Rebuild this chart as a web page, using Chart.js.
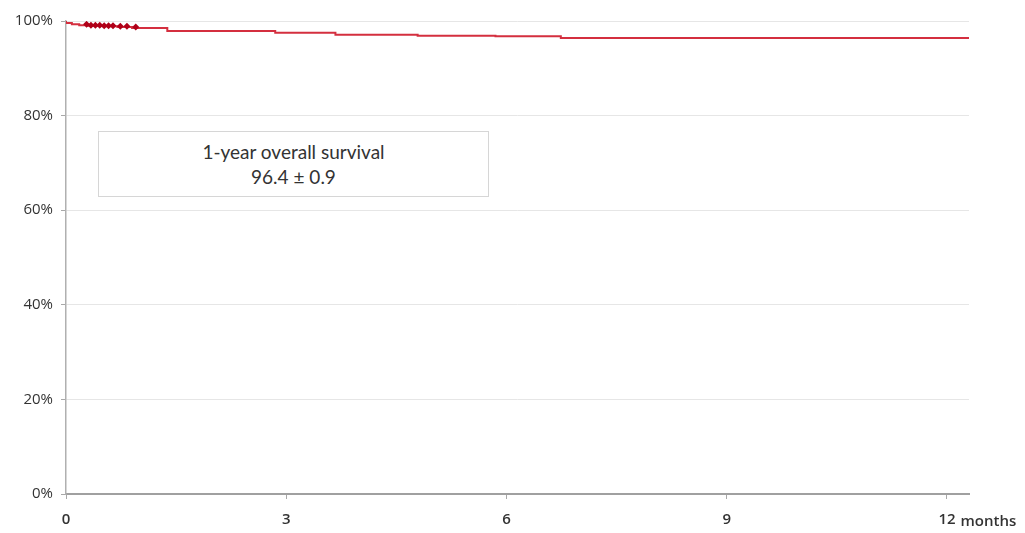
<!DOCTYPE html>
<html>
<head>
<meta charset="utf-8">
<script src="https://cdn.jsdelivr.net/npm/chart.js@4.4.1/dist/chart.umd.min.js"></script>
<style>
  html, body { margin: 0; padding: 0; background: #ffffff; }
  #wrap { position: relative; width: 1025px; height: 533px; }
  #note {
    position: absolute; left: 98px; top: 131px; width: 389px; height: 57px;
    border: 1px solid #d6d6d6; background: #ffffff;
    font-family: Lato, "Open Sans", sans-serif; font-size: 19px; color: #333333;
    text-align: center; line-height: 25px; padding-top: 7px; box-sizing: content-box;
  }
  #note div { height: 25px; }
</style>
</head>
<body>
<div id="wrap">
  <canvas id="km" width="1025" height="533"></canvas>
  <div id="note"><div>1-year overall survival</div><div>96.4 ± 0.9</div></div>
</div>
<script>
// Kaplan–Meier overall survival: event times (months) and survival (%) after each step
const stepMonths   = [0, 0.08, 0.18, 0.3, 0.5, 0.7, 0.9, 1.38, 2.85, 3.67, 4.79, 5.85, 6.74, 8.8, 12.3];
const stepSurvival = [100, 99.6, 99.3, 99.1, 99.0, 98.9, 98.75, 98.5, 97.9, 97.5, 97.1, 96.9, 96.75, 96.4, 96.4];

// censored observations
const censorMonths   = [0.28, 0.34, 0.4, 0.46, 0.52, 0.58, 0.64, 0.74, 0.83, 0.95];
const censorSurvival = [99.3, 99.1, 99.1, 99.1, 99.0, 99.0, 99.0, 98.9, 98.9, 98.75];

// axis ticks
const xTicks = [0, 3, 6, 9, 12];
const xUnit = 'months';
const yTicks = [0, 20, 40, 60, 80, 100];

const curve = stepMonths.map((m, i) => ({ x: m, y: stepSurvival[i] }));
const censored = censorMonths.map((m, i) => ({ x: m, y: censorSurvival[i] }));

const axisFont = { family: '"Open Sans", Lato, sans-serif', size: 15 };
const xFont = { family: '"Open Sans", Lato, sans-serif', size: 15, weight: '600' };

// writes the unit after the last month label
const unitLabel = {
  id: 'unitLabel',
  afterDraw(chart) {
    const sx = chart.scales.x;
    const ctx = chart.ctx;
    const last = xTicks[xTicks.length - 1];
    ctx.save();
    ctx.font = `${xFont.weight} ${xFont.size}px ${xFont.family}`;
    const w = ctx.measureText(String(last)).width;
    const px = sx.getPixelForValue(last);
    ctx.fillStyle = '#333333';
    ctx.textAlign = 'left';
    ctx.textBaseline = 'middle';
    ctx.fillText(xUnit, px + w / 2 + 5, 522);
    ctx.restore();
  }
};

new Chart(document.getElementById('km'), {
  type: 'scatter',
  data: {
    datasets: [
      {
        label: 'Overall survival',
        data: curve,
        showLine: true,
        stepped: 'after',
        borderColor: '#d42f3f',
        borderWidth: 2,
        pointRadius: 0,
        order: 2
      },
      {
        label: 'Censored',
        data: censored,
        showLine: false,
        pointStyle: 'rectRot',
        pointRadius: 3.5,
        backgroundColor: '#b00018',
        borderColor: '#b00018',
        borderWidth: 0,
        order: 1
      }
    ]
  },
  options: {
    responsive: false,
    animation: false,
    layout: { padding: { top: 21, right: 56, left: 0, bottom: 0 } },
    plugins: { legend: { display: false }, tooltip: { enabled: false } },
    scales: {
      x: {
        type: 'linear',
        min: 0,
        max: 12.3,
        afterBuildTicks(scale) { scale.ticks = xTicks.map(v => ({ value: v })); },
        afterFit(scale) { scale.height = 39; },
        ticks: {
          color: '#333333',
          font: xFont,
          padding: 12,
          maxRotation: 0,
          autoSkip: false,
          callback: v => String(v)
        },
        grid: {
          drawOnChartArea: false,
          drawTicks: true,
          tickLength: 5,
          tickColor: '#a8a8a8'
        },
        border: { color: '#a0a0a0', width: 2 }
      },
      y: {
        min: 0,
        max: 100,
        afterBuildTicks(scale) { scale.ticks = yTicks.map(v => ({ value: v })); },
        afterFit(scale) { scale.width = 66; },
        ticks: {
          color: '#333333',
          font: axisFont,
          padding: 8,
          callback: v => v + '%'
        },
        grid: {
          color: '#e6e6e6',
          lineWidth: 1,
          tickLength: 5,
          tickColor: '#a8a8a8'
        },
        border: { color: '#b0b0b0', width: 1.5 }
      }
    }
  },
  plugins: [unitLabel]
});
</script>
</body>
</html>
